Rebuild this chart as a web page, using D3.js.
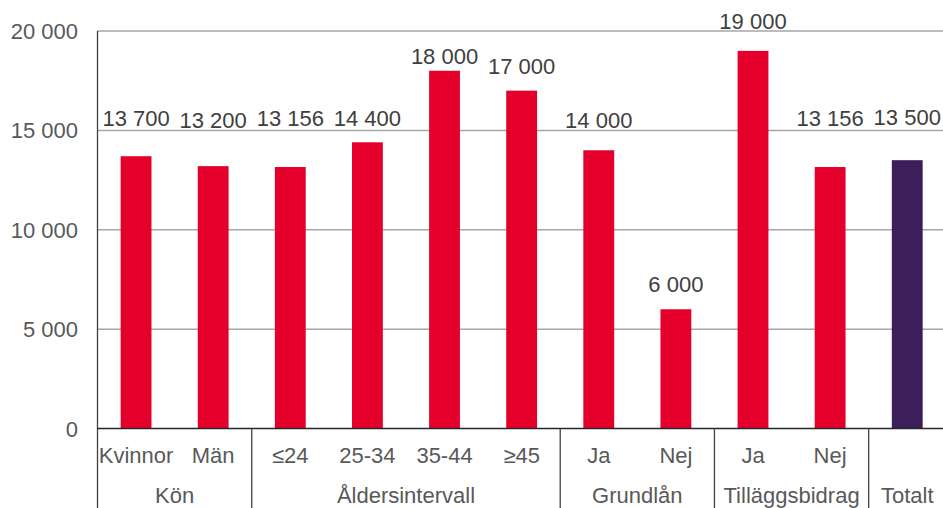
<!DOCTYPE html>
<html>
<head>
<meta charset="utf-8">
<script src="https://cdn.jsdelivr.net/npm/d3@7"></script>
<style>
  html, body { margin: 0; padding: 0; background: #fff; }
  svg { display: block; font-family: "Liberation Sans", Arial, sans-serif; }
</style>
</head>
<body>
<svg id="chart" width="943" height="508"></svg>
<script>
// ---- data ----
const categories = ["Kvinnor", "Män", "≤24", "25-34", "35-44", "≥45", "Ja", "Nej", "Ja", "Nej", ""];
const groups = ["Kön", "Kön", "Åldersintervall", "Åldersintervall", "Åldersintervall", "Åldersintervall",
                "Grundlån", "Grundlån", "Tilläggsbidrag", "Tilläggsbidrag", "Totalt"];
const values = [13700, 13200, 13156, 14400, 18000, 17000, 14000, 6000, 19000, 13156, 13500];
const valueLabels = ["13 700", "13 200", "13 156", "14 400", "18 000", "17 000", "14 000", "6 000", "19 000", "13 156", "13 500"];
// where each value label sits (in axis units)
const labelAt = [15220, 15120, 15220, 15230, 18330, 17820, 15120, 6850, 20085, 15220, 15250];
const yTicks = [0, 5000, 10000, 15000, 20000];
const yTickLabels = ["0", "5 000", "10 000", "15 000", "20 000"];
const isTotal = [false, false, false, false, false, false, false, false, false, false, true];

(function () {
  const svg = d3.select("#chart");
  const mLeft = 97.5, mRight = 945.8, mTop = 31, base = 428.5, mBottom = 508;

  const x = d3.scaleBand().domain(d3.range(categories.length)).range([mLeft, mRight])
    .paddingInner(0.6).paddingOuter(0.3);
  const y = d3.scaleLinear().domain([0, 20000]).range([base, mTop]);
  const step = x.step();

  // gridlines
  svg.append("g").selectAll("line").data(yTicks.filter(d => d > 0)).join("line")
    .attr("x1", mLeft).attr("x2", 943)
    .attr("y1", d => y(d)).attr("y2", d => y(d))
    .attr("stroke", "#a6a6a6").attr("stroke-width", 1.5);

  // y tick labels
  svg.append("g").selectAll("text").data(yTicks).join("text")
    .attr("x", 78).attr("y", d => y(d) + 8)
    .attr("text-anchor", "end")
    .attr("font-size", 22).attr("fill", "#595959")
    .text((d, i) => yTickLabels[i]);

  // bars
  svg.append("g").selectAll("rect").data(values).join("rect")
    .attr("x", (d, i) => x(i)).attr("width", x.bandwidth())
    .attr("y", d => y(d)).attr("height", d => base - y(d))
    .attr("fill", (d, i) => isTotal[i] ? "#3c1e5b" : "#e4002b");

  // value labels
  svg.append("g").selectAll("text").data(values).join("text")
    .attr("x", (d, i) => x(i) + x.bandwidth() / 2)
    .attr("y", (d, i) => y(labelAt[i]))
    .attr("text-anchor", "middle")
    .attr("font-size", 22).attr("fill", "#404040")
    .text((d, i) => valueLabels[i]);

  // y axis line
  svg.append("line").attr("x1", mLeft).attr("x2", mLeft).attr("y1", mTop).attr("y2", mBottom)
    .attr("stroke", "#404040").attr("stroke-width", 1.3);

  // x axis baseline
  svg.append("line").attr("x1", mLeft).attr("x2", 943).attr("y1", base).attr("y2", base)
    .attr("stroke", "#262626").attr("stroke-width", 1.5);

  // category labels
  svg.append("g").selectAll("text").data(categories).join("text")
    .attr("x", (d, i) => x(i) + x.bandwidth() / 2)
    .attr("y", 463)
    .attr("text-anchor", "middle")
    .attr("font-size", 22).attr("fill", "#595959")
    .text(d => d);

  // group spans
  const groupSpans = [];
  groups.forEach((g, i) => {
    const last = groupSpans[groupSpans.length - 1];
    if (last && last.name === g) last.end = i; else groupSpans.push({ name: g, start: i, end: i });
  });
  const boundary = i => x(i) - (step - x.bandwidth()) / 2;

  // separators
  const seps = groupSpans.map(s => s.end + 1).filter(i => i < categories.length);
  svg.append("g").selectAll("line").data(seps).join("line")
    .attr("x1", i => boundary(i)).attr("x2", i => boundary(i))
    .attr("y1", base).attr("y2", mBottom)
    .attr("stroke", "#404040").attr("stroke-width", 1.3);

  // group labels
  svg.append("g").selectAll("text").data(groupSpans).join("text")
    .attr("x", s => (boundary(s.start) + boundary(s.end) + step) / 2)
    .attr("y", 503)
    .attr("text-anchor", "middle")
    .attr("font-size", 22).attr("fill", "#595959")
    .text(s => s.name);
})();
</script>
</body>
</html>
